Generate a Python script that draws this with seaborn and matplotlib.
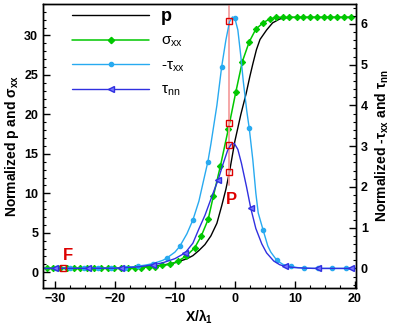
import numpy as np
import pandas as pd
import matplotlib
matplotlib.use('Agg')
import matplotlib.pyplot as plt
import seaborn as sns
from matplotlib.lines import Line2D
from matplotlib.ticker import MultipleLocator

# values
# p (left axis), plain line
p_x = [-32, -20, -15, -12, -10, -8, -7, -6, -5, -4, -3, -2.2, -1.5, -0.9, 0, 1,
       1.9, 2.5, 3, 3.6, 4.2, 5.3, 6.3, 7.5, 9, 20]
p_y = [0.5, 0.5, 0.65, 0.9, 1.2, 1.7, 2.1, 2.75, 3.5, 4.6, 6.2, 8.4, 10.5, 12.7,
       16.6, 20.0, 22.7, 24.8, 26.4, 28.2, 29.5, 30.7, 31.6, 32.1, 32.3, 32.3]

# sigma_xx (left axis), line through markers
sig_x = [-31.4, -30.3, -29.2, -28.0, -26.9, -25.8, -24.6, -23.5, -22.4, -21.2,
         -20.1, -19.0, -17.8, -16.7, -15.6, -14.4, -13.3, -12.1, -10.8, -9.5,
         -8.1, -6.7, -5.6, -4.45, -3.6, -2.4, -1.1, 0.15, 1.25, 2.4, 3.5, 4.7,
         5.8, 6.9, 8.0, 9.1, 10.3, 11.4, 12.5, 13.7, 14.8, 15.9, 17.1, 18.2, 19.3]
sig_y = [0.5, 0.5, 0.5, 0.5, 0.5, 0.5, 0.5, 0.5, 0.5, 0.5, 0.5, 0.5, 0.5,
         0.52, 0.58, 0.65, 0.72, 0.85, 1.0, 1.4, 2.06, 3.1, 4.6, 6.7, 9.6, 13.5,
         18.1, 22.8, 26.7, 29.2, 30.8, 31.6, 32.1, 32.3, 32.3, 32.3, 32.3, 32.3,
         32.3, 32.3, 32.3, 32.3, 32.3, 32.3, 32.3]

# -tau_xx (right axis)
txx_x = [-32, -20, -17, -15, -13.6, -12, -11.4, -10, -9.2, -8, -7, -6, -5, -4.5,
         -4, -3, -2.2, -1.5, -0.9, -0.4, 0, 0.5, 1, 1.4, 2, 2.4, 3, 3.5, 3.9,
         4.7, 5.5, 6, 7, 8, 9.3, 10.5, 11.6, 13, 15, 20]
txx_y = [0, 0.005, 0.04, 0.08, 0.12, 0.2, 0.25, 0.4, 0.54, 0.85, 1.19, 1.65, 2.3,
         2.62, 3.05, 4.0, 4.95, 5.6, 6.05, 6.17, 6.14, 5.85, 5.2, 4.6, 3.85,
         3.44, 2.66, 1.85, 1.36, 0.95, 0.55, 0.4, 0.2, 0.1, 0.05, 0.02, 0.01,
         0, 0, 0]
txx_mx = [-29.8, -27.5, -25.2, -22.9, -20.6, -18.4, -16.1, -13.6, -11.4, -9.2,
          -7.0, -4.5, -2.2, 0.0, 2.4, 4.7, 7.0, 9.3, 11.6, 13.9, 16.2, 18.5]
txx_my = [0, 0, 0, 0, 0, 0.01, 0.06, 0.12, 0.25, 0.54, 1.19, 2.62, 4.95, 6.14,
          3.44, 0.95, 0.2, 0.05, 0.01, 0, 0, 0]

# tau_nn (right axis)
tnn_x = [-32, -20, -16, -13.6, -12, -10, -8.3, -7, -6, -5, -4.45, -3.5, -2.8, -2,
         -1.2, -0.6, -0.1, 0.5, 1.1, 1.95, 2.65, 3.5, 4.5, 5.3, 6.5, 7.5, 8.3,
         10, 12, 14, 20]
tnn_y = [0, 0.005, 0.04, 0.09, 0.14, 0.24, 0.38, 0.62, 0.97, 1.3, 1.52, 1.9,
         2.17, 2.55, 2.9, 3.05, 3.07, 2.92, 2.58, 2.0, 1.48, 0.98, 0.6, 0.38,
         0.18, 0.09, 0.05, 0.02, 0.005, 0, 0]
tnn_mx = [-30, -24.5, -19, -13.6, -8.3, -2.8, 2.65, 8.3, 13.9, 19.3]
tnn_my = [0, 0, 0.005, 0.09, 0.38, 2.17, 1.48, 0.05, 0, 0]

# red probe points (left axis)
probe_x = [-0.9, -0.9, -0.9, -0.9, -28.6]
probe_y = [31.8, 18.9, 16.1, 12.7, 0.47]

sns.set_style('ticks')
plt.rcParams['font.family'] = ['Liberation Sans', 'DejaVu Sans']
plt.rcParams['font.weight'] = 'normal'
plt.rcParams['mathtext.fontset'] = 'dejavusans'
plt.rcParams['mathtext.default'] = 'regular'
for k in ['text.color', 'axes.labelcolor', 'xtick.color', 'ytick.color', 'axes.edgecolor']:
    plt.rcParams[k] = 'black'

c_p = 'black'
c_sig = '#00c800'
c_txx = '#28aaf0'
c_tnn = '#3030e0'
c_red = '#dd0000'

fig = plt.figure(figsize=(3.99, 3.28), dpi=100)
ax = fig.add_axes([0.108, 0.122, 0.784, 0.866])
ax2 = ax.twinx()

sns.lineplot(x=p_x, y=p_y, ax=ax, color=c_p, lw=1.0, estimator=None, sort=False)
sns.lineplot(x=sig_x, y=sig_y, ax=ax, color=c_sig, lw=1.1, marker='D', ms=3.2,
             mec=c_sig, estimator=None, sort=False)

sns.lineplot(x=txx_x, y=txx_y, ax=ax2, color=c_txx, lw=1.0, estimator=None, sort=False)
ax2.plot(txx_mx, txx_my, ls='none', marker='o', ms=3.0, color=c_txx, mec=c_txx)
sns.lineplot(x=tnn_x, y=tnn_y, ax=ax2, color=c_tnn, lw=1.0, estimator=None, sort=False)
ax2.plot(tnn_mx, tnn_my, ls='none', marker='<', ms=4.5, color=c_tnn, mfc='#7777ff')

# red marker line and probe squares, in left-axis data coords but on top
ax2.plot([-0.9, -0.9], [11.1, 34], color='#f4a0a0', lw=1.3, transform=ax.transData, zorder=1)
ax2.plot(probe_x, probe_y, ls='none', marker='s', ms=5, mfc='none', mec=c_red,
         mew=1.0, transform=ax.transData, zorder=5)
ax2.text(-0.6, 9.2, 'P', color=c_red, fontsize=12, fontweight='bold',
         ha='center', va='center', transform=ax.transData)
ax2.text(-27.9, 2.1, 'F', color=c_red, fontsize=12, fontweight='bold',
         ha='center', va='center', transform=ax.transData)

ax.set_xlim(-32, 20.2)
ax.set_ylim(-2, 34)
ax2.set_ylim(-0.48, 6.49)

ax.xaxis.set_major_locator(MultipleLocator(10))
ax.xaxis.set_minor_locator(MultipleLocator(2.5))
ax.yaxis.set_major_locator(MultipleLocator(5))
ax.yaxis.set_minor_locator(MultipleLocator(1))
ax2.yaxis.set_major_locator(MultipleLocator(1))
ax2.yaxis.set_minor_locator(MultipleLocator(0.2))

for a in (ax, ax2):
    a.tick_params(which='both', direction='in', labelsize=9, top=False)
    a.tick_params(which='major', length=5, width=1)
    a.tick_params(which='minor', length=2.5, width=0.8)
    for s in a.spines.values():
        s.set_linewidth(1.0)
        s.set_visible(True)
ax.tick_params(axis='y', which='both', right=False)
ax2.tick_params(axis='y', which='both', left=False)
for lab in ax.get_xticklabels() + ax.get_yticklabels() + ax2.get_yticklabels():
    lab.set_fontweight('bold')

ax.set_xlabel(r'X/$\lambda_1$', fontsize=10, fontweight='bold', labelpad=2)
ax.set_ylabel(r'Normalized p and $\sigma_{xx}$', fontsize=10, fontweight='bold', labelpad=2)
ax2.set_ylabel(r'Normalized -$\tau_{xx}$ and $\tau_{nn}$', fontsize=10,
               fontweight='bold', labelpad=4)

handles = [
    Line2D([], [], color=c_p, lw=1.0),
    Line2D([], [], color=c_sig, lw=1.1, marker='D', ms=3.2),
    Line2D([], [], color=c_txx, lw=1.0, marker='o', ms=3.0),
    Line2D([], [], color=c_tnn, lw=1.0, marker='<', ms=4.5, mfc='#7777ff'),
]
labels = ['p', r'$\sigma_{xx}$', r'-$\tau_{xx}$', r'$\tau_{nn}$']
leg = ax2.legend(handles, labels, loc='upper left', bbox_to_anchor=(0.05, 1.035),
                 frameon=False, fontsize=11, handlelength=5.0, numpoints=1,
                 labelspacing=0.6, handletextpad=0.8)
leg.get_texts()[0].set_fontweight('bold')
leg.get_texts()[0].set_fontsize(13)

fig.savefig('out.png', dpi=100)
